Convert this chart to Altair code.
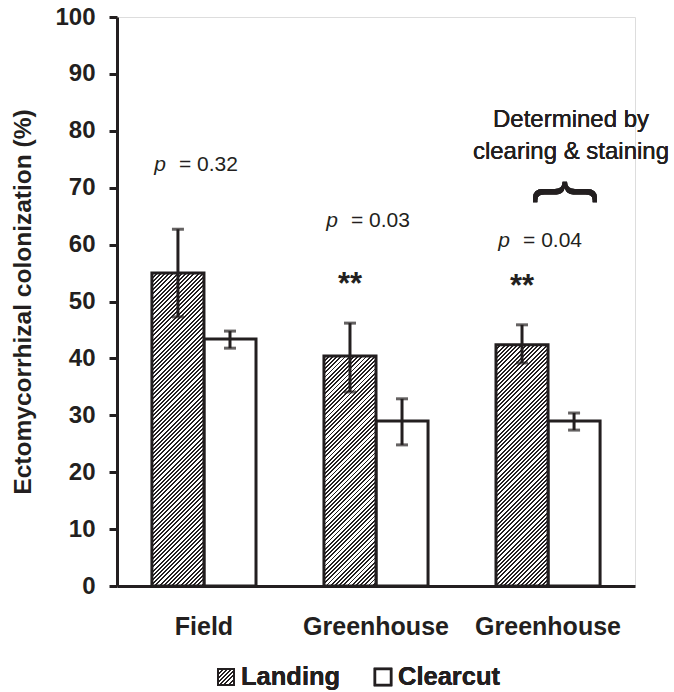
import altair as alt
import pandas as pd

# ---------------- data ----------------
groups = ["Field", "Greenhouse", "Greenhouse"]
treatments = ["Landing", "Clearcut"]
landing_mean = [55.0, 40.4, 42.4]
landing_lo = [47.3, 34.1, 39.2]
landing_hi = [62.7, 46.2, 45.9]
clearcut_mean = [43.4, 29.0, 29.0]
clearcut_lo = [41.8, 24.8, 27.4]
clearcut_hi = [44.8, 32.9, 30.4]
p_values = ["0.32", "0.03", "0.04"]
p_label_level = [72.9, 63.1, 59.6]
stars = ["", "**", "**"]
star_level = [51.0, 51.4, 50.9]
note_lines = ["Determined by", "clearing & staining"]
y_ticks = list(range(0, 101, 10))

# ---------------- layout / style ----------------
W, H = 518, 569
DARK = "#231f20"
FONT = "Liberation Sans"
PI, PO = 0.395, 0.203
keys = [str(i) for i in range(len(groups))]

rows = []
for i, k in enumerate(keys):
    rows.append(dict(key=k, treatment="Landing", mean=landing_mean[i], lo=landing_lo[i], hi=landing_hi[i]))
    rows.append(dict(key=k, treatment="Clearcut", mean=clearcut_mean[i], lo=clearcut_lo[i], hi=clearcut_hi[i]))
df = pd.DataFrame(rows)

ann = pd.DataFrame(dict(key=keys, p=p_values, plev=p_label_level, stars=stars, slev=star_level,
                        treatment=["Landing"] * len(keys)))

label_expr = "[" + ",".join("'" + g + "'" for g in groups) + "][datum.value]"

xscale = alt.Scale(domain=keys, paddingInner=PI, paddingOuter=PO)
xaxis = alt.Axis(title=None, labelExpr=label_expr, labelFont=FONT, labelFontSize=25,
                 labelFontWeight="bold", labelColor=DARK, labelPadding=28, ticks=False,
                 domainColor=DARK, domainWidth=3, labelAngle=0)
yscale = alt.Scale(domain=[0, 100], nice=False)
YTITLE = "Ectomycorrhizal colonization (%)"
yaxis = alt.Axis(values=y_ticks, title=YTITLE, titleFont=FONT, titleFontSize=24.5,
                 titleFontWeight="bold", titleColor=DARK, titlePadding=19,
                 labelFont=FONT, labelFontSize=24, labelFontWeight="bold", labelColor=DARK,
                 labelPadding=14, tickSize=8, tickWidth=3, tickColor=DARK,
                 domainColor=DARK, domainWidth=3, grid=False)

X = alt.X("key:N", scale=xscale, axis=xaxis)
XO = alt.XOffset("treatment:N", scale=alt.Scale(domain=treatments))


def Y(field):
    return alt.Y(field, type="quantitative", scale=yscale, axis=yaxis, title=YTITLE)


# pixel geometry used only to draw the 45-degree hatch inside the gradients
step = W / (len(keys) - PI + 2 * PO)
bar_w = step * (1 - PI) / 2
PERIOD = 4.2
DARKFRAC = 0.45


def hatch(w, h):
    L = w + h
    stops = []
    k = 0
    while k * PERIOD < L:
        a = k * PERIOD / L
        b = min((k * PERIOD + PERIOD * DARKFRAC) / L, 1.0)
        c = min((k + 1) * PERIOD / L, 1.0)
        stops += [alt.GradientStop(color=DARK, offset=a), alt.GradientStop(color=DARK, offset=b),
                  alt.GradientStop(color="white", offset=b), alt.GradientStop(color="white", offset=c)]
        k += 1
    s = h * (w + h) / (w * w + h * h)
    return alt.LinearGradient(gradient="linear", stops=stops, x1=0, y1=0, x2=s * w / h, y2=s)


layers = []
layers.append(
    alt.Chart(df).transform_filter(alt.datum.treatment == "Clearcut")
    .mark_bar(fill="white", stroke=DARK, strokeWidth=3)
    .encode(x=X, xOffset=XO, y=Y("mean"))
)
for i, k in enumerate(keys):
    h = landing_mean[i] / 100 * H
    layers.append(
        alt.Chart(df).transform_filter((alt.datum.treatment == "Landing") & (alt.datum.key == k))
        .mark_bar(fill=hatch(bar_w, h), stroke=DARK, strokeWidth=3)
        .encode(x=X, xOffset=XO, y=Y("mean"))
    )

layers.append(
    alt.Chart(df).mark_rule(color=DARK, strokeWidth=3)
    .encode(x=X, xOffset=XO, y=Y("lo"), y2="hi")
)
for fld in ["lo", "hi"]:
    layers.append(
        alt.Chart(df).mark_tick(color=DARK, thickness=3, size=12, orient="horizontal")
        .encode(x=X, xOffset=XO, y=Y(fld))
    )

# p-value annotations
layers.append(
    alt.Chart(ann).mark_text(text="p", font=FONT, fontSize=21, fontStyle="italic", color=DARK,
                             align="right", baseline="alphabetic", dx=-38)
    .encode(x=X, y=Y("plev"))
)
layers.append(
    alt.Chart(ann).mark_text(font=FONT, fontSize=21, color=DARK, align="left",
                             baseline="alphabetic", dx=-25)
    .encode(x=X, y=Y("plev"), text=alt.Text("ptxt:N"))
    .transform_calculate(ptxt="'= ' + datum.p")
)
layers.append(
    alt.Chart(ann).mark_text(font=FONT, fontSize=31, fontWeight="bold", color=DARK,
                             align="center", baseline="alphabetic")
    .encode(x=X, xOffset=XO, y=Y("slev"), text="stars:N")
)

# note and brace
layers.append(
    alt.Chart(ann).mark_text(text=note_lines, font=FONT, fontSize=24, color=DARK, align="center",
                             baseline="alphabetic", lineHeight=32)
    .encode(x=alt.value(454), y=alt.value(110))
)
layers.append(
    alt.Chart(ann).mark_text(text="}", font=FONT, fontSize=68, color=DARK, align="center",
                             baseline="middle", angle=270)
    .encode(x=alt.value(446), y=alt.value(175))
)

# legend
layers.append(
    alt.Chart(ann).mark_rect(fill=hatch(16, 16), stroke=DARK, strokeWidth=2)
    .encode(x=alt.value(101), x2=alt.value(117), y=alt.value(652), y2=alt.value(668))
)
layers.append(
    alt.Chart(ann).mark_rect(fill="white", stroke=DARK, strokeWidth=2.5)
    .encode(x=alt.value(258), x2=alt.value(274), y=alt.value(652), y2=alt.value(668))
)
for txt, xx in [("Landing", 124), ("Clearcut", 281)]:
    layers.append(
        alt.Chart(ann).mark_text(text=txt, font=FONT, fontSize=25.5, fontWeight="bold", color=DARK,
                                 align="left", baseline="alphabetic")
        .encode(x=alt.value(xx), y=alt.value(668))
    )

chart = alt.layer(*layers).properties(
    width=W, height=H,
    padding={"left": 117, "top": 17, "right": 674 - 117 - W, "bottom": 692 - 17 - H},
    autosize=alt.AutoSizeParams(type="none"),
).configure_view(stroke=None).configure(background="white")

chart.save("out.html", embed_options={"renderer": "svg", "actions": False})
